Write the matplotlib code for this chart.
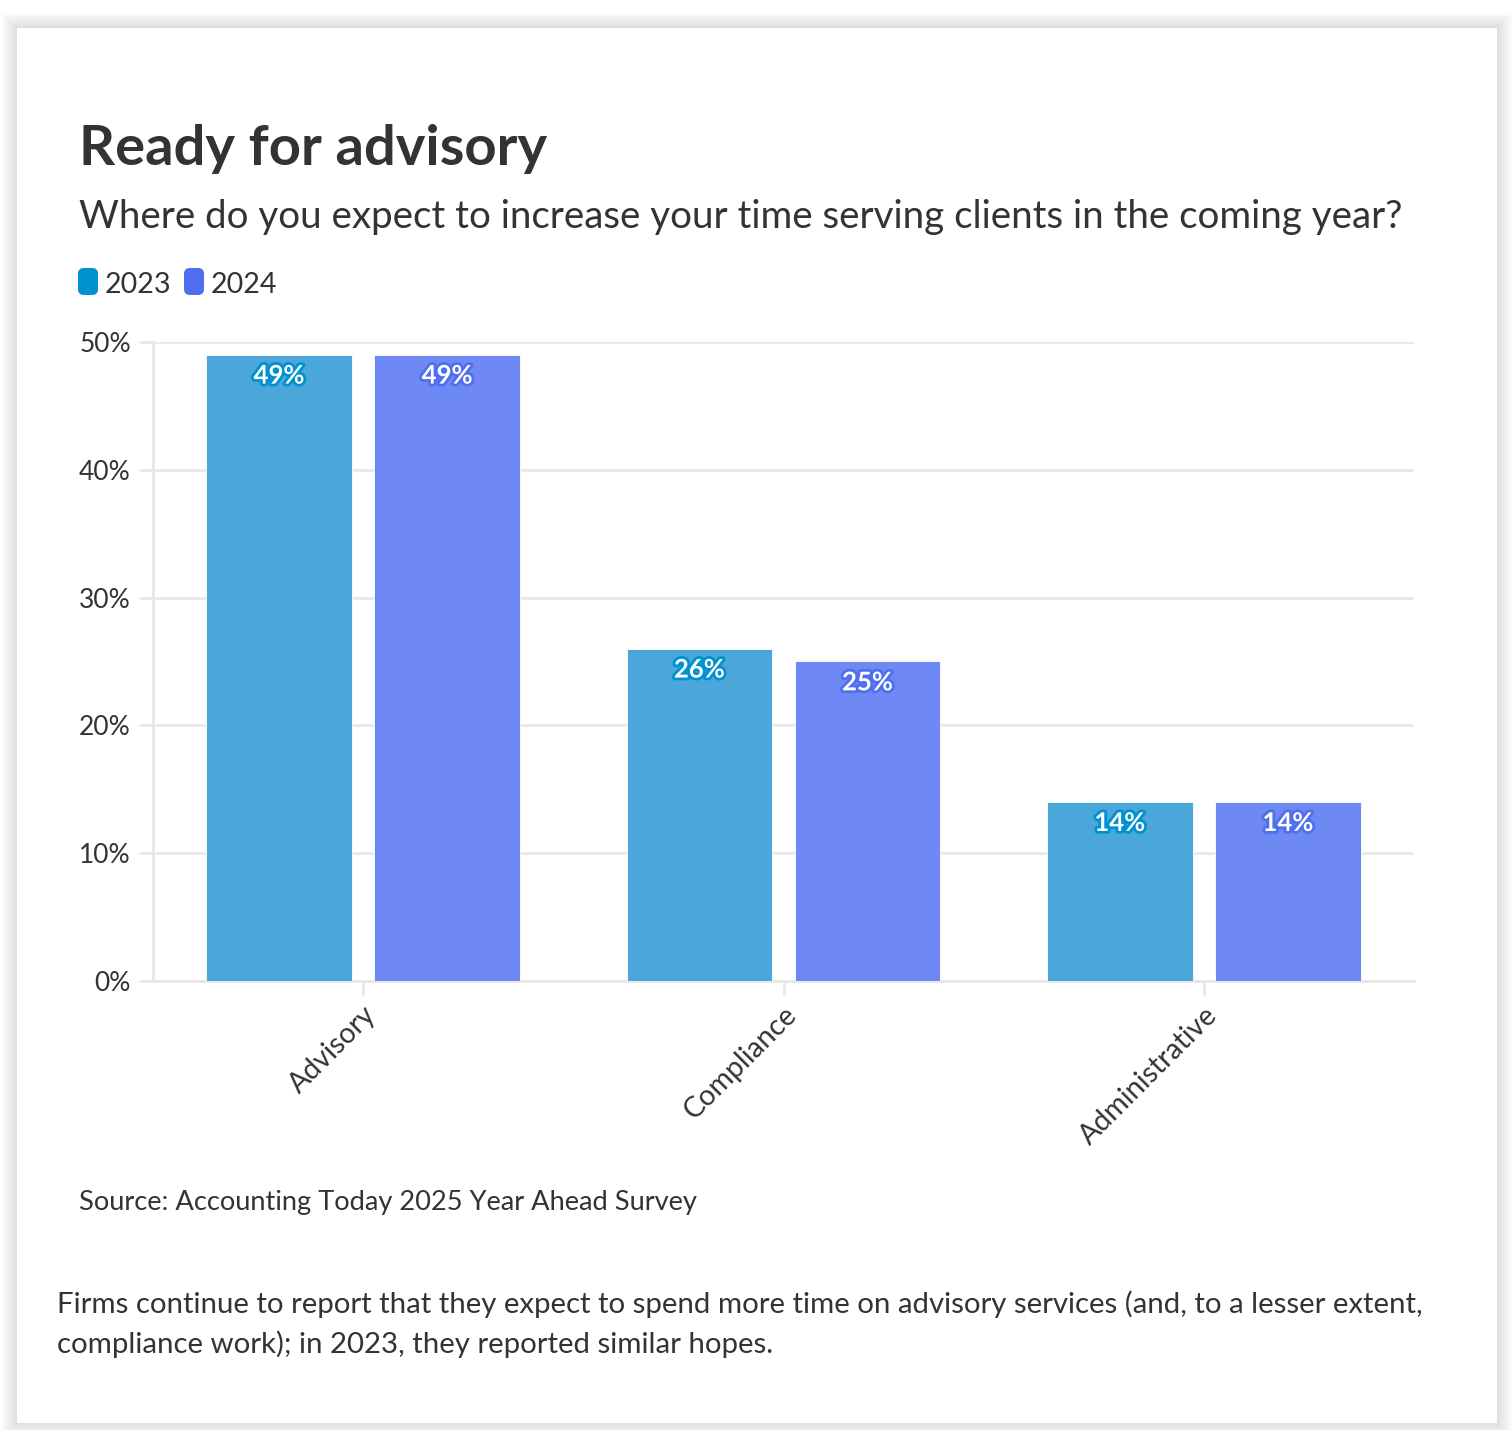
import matplotlib
matplotlib.use("Agg")
import matplotlib.pyplot as plt
import matplotlib.patheffects as pe
from matplotlib.patches import Rectangle, FancyBboxPatch
import numpy as np

plt.rcParams['font.family'] = ['Lato', 'DejaVu Sans']

categories = ['Advisory', 'Compliance', 'Administrative']
years = ['2023', '2024']
values_2023 = [49, 26, 14]
values_2024 = [49, 25, 14]
yticks = [0, 10, 20, 30, 40, 50]

title = 'Ready for advisory'
subtitle = 'Where do you expect to increase your time serving clients in the coming year?'
source = 'Source: Accounting Today 2025 Year Ahead Survey'
note = ('Firms continue to report that they expect to spend more time on advisory services (and, to a lesser extent,\n'
        'compliance work); in 2023, they reported similar hopes.')

bar_colors = ['#4ba6d9', '#6e89f4']
key_colors = ['#0091d0', '#4f6ff0']
text_color = '#333333'
grid_color = '#e8e8e8'

W, H = 1512, 1430
fig = plt.figure(figsize=(W / 100, H / 100), dpi=100)
fig.patch.set_facecolor('white')

# card with a soft shadow
for d in range(16, 0, -1):
    fig.patches.append(Rectangle(((17 - d) / W, 1 - (1423 + d) / H), (1480 + 2 * d) / W, (1395 + 2 * d) / H,
                                 transform=fig.transFigure, facecolor='black', alpha=0.006,
                                 edgecolor='none', zorder=-10))
fig.patches.append(Rectangle((17 / W, 1 - 1423 / H), 1480 / W, 1395 / H,
                             transform=fig.transFigure, facecolor='white', edgecolor='none', zorder=-9))

ax = fig.add_axes([153 / W, 1 - 981 / H, (1414 - 153) / W, (981 - 342) / H])
ax.set_facecolor('none')

x = np.arange(len(categories))
width = 0.347
offset = 0.2
series = [values_2023, values_2024]
for j, vals in enumerate(series):
    bars = ax.bar(x + (j * 2 - 1) * offset, vals, width, color=bar_colors[j],
                  edgecolor='white', linewidth=0.6, zorder=3)
    for b, v in zip(bars, vals):
        ax.annotate(f'{v}%', (b.get_x() + b.get_width() / 2, v), xytext=(0, -15),
                    textcoords='offset points', ha='center', va='center',
                    fontsize=18.5, fontweight='bold', color='white', zorder=5,
                    path_effects=[pe.withStroke(linewidth=4, foreground=key_colors[j])])

ax.set_xlim(-0.5, 2.5)
ax.set_ylim(0, 50)
ax.set_yticks(yticks)
ax.set_yticklabels([f'{t}%' for t in yticks], fontsize=19, color=text_color)
ax.set_xticks(x)
ax.set_xticklabels(categories, rotation=45, ha='right', va='top', rotation_mode='anchor',
                   fontsize=20.5, color=text_color)
ax.tick_params(axis='y', length=10, width=2, color=grid_color, pad=6)
ax.tick_params(axis='x', length=10, width=2, color=grid_color, pad=5)
ax.grid(axis='y', color=grid_color, linewidth=2, zorder=0)
ax.set_axisbelow(True)
for s in ['top', 'right']:
    ax.spines[s].set_visible(False)
for s in ['left', 'bottom']:
    ax.spines[s].set_color(grid_color)
    ax.spines[s].set_linewidth(2)

fig.text(79 / W, 1 - 165 / H, title, fontsize=40.4, fontweight='bold', color=text_color, va='baseline')
fig.text(79 / W, 1 - 228 / H, subtitle, fontsize=27.7, color=text_color, va='baseline')

# legend keys
lx = 78
for j, yr in enumerate(years):
    fig.patches.append(FancyBboxPatch((lx / W, 1 - 295 / H), 20 / W, 27 / H,
                                      boxstyle='round,pad=0,rounding_size=0.004',
                                      transform=fig.transFigure, facecolor=key_colors[j],
                                      edgecolor='none'))
    fig.text((lx + 27) / W, 1 - 293 / H, yr, fontsize=20.6, color=text_color, va='baseline')
    lx += 106

fig.text(79 / W, 1 - 1210 / H, source, fontsize=19.6, color=text_color, va='baseline')
fig.text(57 / W, 1 - 1353 / H, note, fontsize=21.2, color=text_color, va='baseline', linespacing=1.55)

fig.savefig('out.png', dpi=100)
